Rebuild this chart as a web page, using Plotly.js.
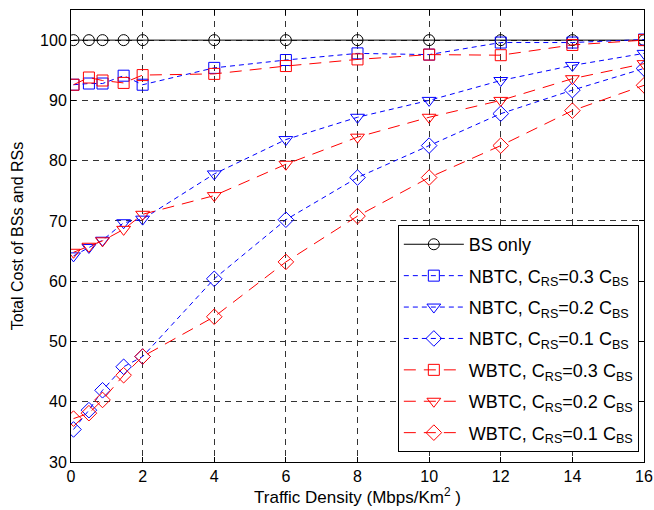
<!DOCTYPE html>
<html>
<head>
<meta charset="utf-8">
<script src="https://cdn.plot.ly/plotly-3.0.1.min.js"></script>
<style>html,body{margin:0;padding:0;background:#fff;}#chart{width:654px;height:510px;}</style>
</head>
<body>
<div id="chart"></div>
<script>
const trafficDensity = [0.07, 0.5, 0.88, 1.47, 2, 4, 6, 8, 10, 12, 14, 16];
const bsOnly  = [100, 100, 100, 100, 100, 100, 100, 100, 100, 100, 100, 100];
const nbtc03  = [92.6, 92.8, 92.8, 94.1, 92.6, 95.4, 96.7, 97.8, 97.6, 99.6, 99.6, 100.1];
const nbtc02  = [64.2, 65.6, 66.8, 69.7, 70.3, 77.8, 83.5, 87.2, 90.0, 93.3, 95.8, 97.8];
const nbtc01  = [35.4, 38.6, 41.9, 45.8, 47.5, 60.4, 70.2, 77.2, 82.5, 87.8, 91.7, 95.3];
const wbtc03  = [92.6, 93.8, 93.3, 92.9, 94.2, 94.4, 95.7, 96.8, 97.6, 97.5, 99.2, 100.0];
const wbtc02  = [64.8, 65.8, 66.7, 68.6, 71.1, 74.2, 79.4, 83.9, 87.2, 90.0, 93.6, 96.1];
const wbtc01  = [37.2, 38.1, 40.3, 44.4, 47.5, 54.1, 63.2, 70.8, 77.2, 82.5, 88.3, 92.5];
const xTicks = [0, 2, 4, 6, 8, 10, 12, 14, 16];
const yTicks = [30, 40, 50, 60, 70, 80, 90, 100];
const seriesNames = [
  'BS only',
  'NBTC, C<sub>RS</sub>=0.3 C<sub>BS</sub>',
  'NBTC, C<sub>RS</sub>=0.2 C<sub>BS</sub>',
  'NBTC, C<sub>RS</sub>=0.1 C<sub>BS</sub>',
  'WBTC, C<sub>RS</sub>=0.3 C<sub>BS</sub>',
  'WBTC, C<sub>RS</sub>=0.2 C<sub>BS</sub>',
  'WBTC, C<sub>RS</sub>=0.1 C<sub>BS</sub>'
];

const blueDash = '5px,4px';
const redDash = '12px,8px';
let gid = 0;
function tr(y, name, color, dash, symbol, size) {
  gid += 1;
  return {
    x: trafficDensity, y: y, name: name, type: 'scatter', mode: 'lines+markers',
    legendgroup: 'g' + gid,
    line: {color: color, width: 1, dash: dash},
    marker: {symbol: symbol, size: size, color: color, line: {color: color, width: 1}}
  };
}
const data = [
  tr(bsOnly, seriesNames[0], '#000000', 'solid', 'circle-open', 11),
  tr(nbtc03, seriesNames[1], '#0000ff', blueDash, 'square-open', 11),
  tr(nbtc02, seriesNames[2], '#0000ff', blueDash, 'triangle-down-open', 12),
  tr(nbtc01, seriesNames[3], '#0000ff', blueDash, 'diamond-open', 12),
  tr(wbtc03, seriesNames[4], '#ff0000', redDash, 'square-open', 11),
  tr(wbtc02, seriesNames[5], '#ff0000', redDash, 'triangle-down-open', 12),
  tr(wbtc01, seriesNames[6], '#ff0000', redDash, 'diamond-open', 12)
];

const axisCommon = {
  showline: true, linecolor: '#000', linewidth: 1, mirror: 'ticks',
  ticks: 'inside', ticklen: 5, tickcolor: '#000',
  showgrid: true, gridcolor: '#333', gridwidth: 1, griddash: '6px,5px',
  zeroline: false, tickfont: {size: 16, color: '#000'}
};
const layout = {
  width: 654, height: 510,
  margin: {l: 71, r: 10, t: 10, b: 48},
  paper_bgcolor: '#fff', plot_bgcolor: '#fff',
  font: {family: 'Liberation Sans, Arial, sans-serif', color: '#000'},
  xaxis: Object.assign({}, axisCommon, {
    range: [0, 16], tickvals: xTicks, ticktext: xTicks.map(String),
    title: {text: 'Traffic Density (Mbps/Km<sup>2</sup> )', font: {size: 17}, standoff: 6}
  }),
  yaxis: Object.assign({}, axisCommon, {
    range: [30, 105], tickvals: yTicks, ticktext: yTicks.map(String),
    title: {text: 'Total Cost of BSs and RSs', font: {size: 16}, standoff: 12}
  }),
  showlegend: true,
  legend: {
    x: 0.991, y: 0.022, xanchor: 'right', yanchor: 'bottom',
    bgcolor: '#fff', bordercolor: '#000', borderwidth: 1,
    font: {size: 18, color: '#000'}, itemwidth: 60, tracegroupgap: 5
  }
};
Plotly.newPlot('chart', data, layout, {staticPlot: true, displayModeBar: false});
</script>
</body>
</html>
